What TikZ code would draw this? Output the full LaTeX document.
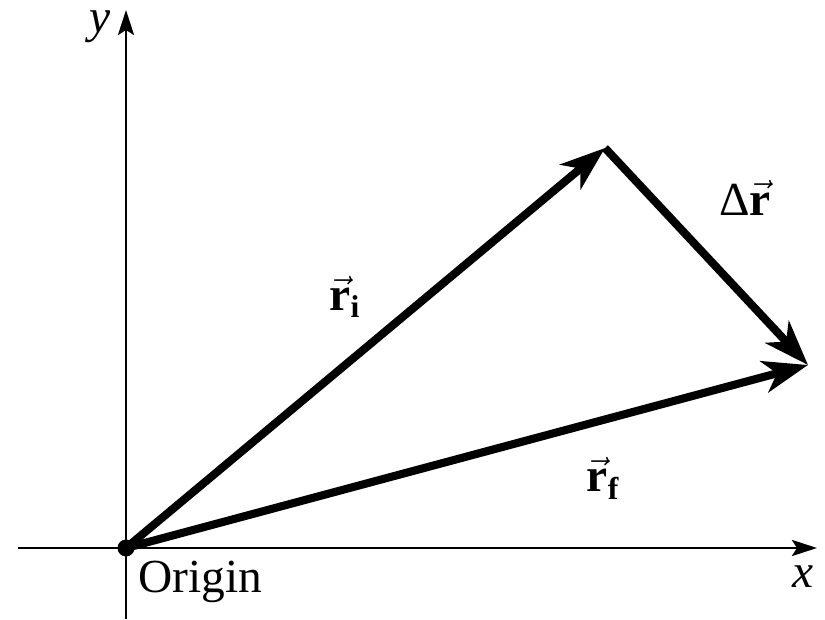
\documentclass[tikz,border=0pt]{standalone}
\usepackage{fontspec}
\setmainfont{Liberation Serif}
\usetikzlibrary{arrows.meta, positioning}

\begin{document}
\begin{tikzpicture}[
			x=0.02cm, y=0.02cm,
			axis/.style={line width=1.7pt, -{Stealth[length=5mm, width=3.2mm, inset=1mm]}},
			vec/.style={line width=4.6pt, -{Stealth[length=9mm, width=6.4mm, inset=2.6mm]}},
			lbl/.style={font=\fontsize{27}{30}\selectfont, inner sep=0pt}
		]
		\useasboundingbox (0,0) rectangle (825,619);
		\coordinate (O) at (126,71);
		\coordinate (xl) at (18,71);
		\coordinate (xr) at (817,71);
		\coordinate (yb) at (126,0);
		\coordinate (yt) at (126,609);
		\coordinate (ri) at (605,471);
		\coordinate (rf) at (808,254);

		\draw[axis] (xl) -- (xr);
		\draw[axis] (yb) -- (yt);
		\draw[vec] (O) -- (ri);
		\draw[vec] (O) -- (rf);
		\draw[vec] (ri) -- (rf);
		\fill (O) circle[radius=0.17cm];

		\node[lbl] (xlab) at (803,42) {\itshape x};
		\node[lbl] (ylab) at (100,592) {\itshape y};
		\node[lbl, anchor=west] (orig) at (138,37) {Origin};
		\node[lbl] (rilab) at (345,322) {$\vec{\hbox{\bfseries r}}_{\hbox{\bfseries\fontsize{18}{20}\selectfont i}}$};
		\node[lbl] (rflab) at (603,141) {$\vec{\hbox{\bfseries r}}_{\hbox{\bfseries\fontsize{18}{20}\selectfont f}}$};
		\node[lbl] (drlab) at (745,421) {Δ$\vec{\hbox{\bfseries r}}$};
	\end{tikzpicture}
\end{document}
